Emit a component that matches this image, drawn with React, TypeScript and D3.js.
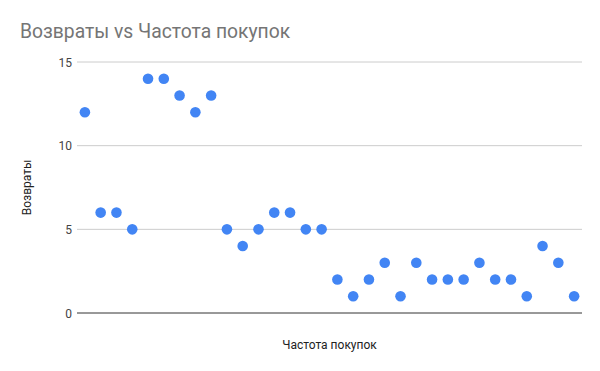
import React from "react";
import * as d3 from "d3";

const title = "Возвраты vs Частота покупок";
const xLabel = "Частота покупок";
const yLabel = "Возвраты";
const purchaseIndex = Array.from({ length: 32 }, (_, i) => i + 1);
const returnsValues = [12, 6, 6, 5, 14, 14, 13, 12, 13, 5, 4, 5, 6, 6, 5, 5, 2, 1, 2, 3, 1, 3, 2, 2, 2, 3, 2, 2, 1, 4, 3, 1];
const yTicks = [0, 5, 10, 15];

const W = 600;
const H = 371;
const left = 77;
const right = 582;
const top = 62;
const bottom = 313;

export default function App() {
  const x = d3.scaleLinear().domain([0.5, 32.5]).range([left, right]);
  const y = d3.scaleLinear().domain([0, 15]).range([bottom, top]);
  const font = "Roboto, Arial, sans-serif";
  return (
    <svg width={W} height={H} style={{ position: "absolute", left: 0, top: 0, background: "#fff" }}>
      <rect x={0} y={0} width={W} height={H} fill="#fff" />
      <text x={20} y={38} fontFamily={font} fontSize={19.3} fill="#757575">{title}</text>
      {yTicks.map((t) => (
        <g key={t}>
          {t !== 0 && (
            <line x1={left} x2={right} y1={y(t)} y2={y(t)} stroke="#cccccc" strokeWidth={1} />
          )}
          <text x={72} y={y(t) + 4.5} textAnchor="end" fontFamily={font} fontSize={12} fill="#444">{t}</text>
        </g>
      ))}
      <line x1={left} x2={right} y1={y(0)} y2={y(0)} stroke="#333" strokeWidth={1} />
      {purchaseIndex.map((xi, i) => (
        <circle key={i} cx={x(xi)} cy={y(returnsValues[i])} r={5.3} fill="#4285F4" />
      ))}
      <text x={(left + right) / 2} y={349} textAnchor="middle" fontFamily={font} fontSize={12} fill="#222">{xLabel}</text>
      <text transform={`translate(31, ${(top + bottom) / 2}) rotate(-90)`} textAnchor="middle" fontFamily={font} fontSize={12} fill="#222">{yLabel}</text>
    </svg>
  );
}
